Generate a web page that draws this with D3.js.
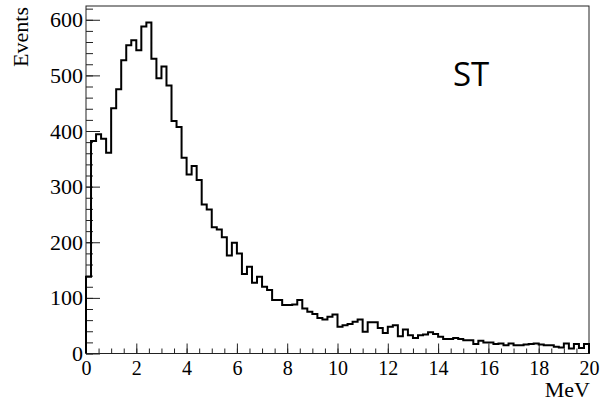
<!DOCTYPE html>
<html>
<head>
<meta charset="utf-8">
<script src="https://cdn.jsdelivr.net/npm/d3@7"></script>
<style>
  body { margin: 0; background: #fff; }
  svg { display: block; }
</style>
</head>
<body>
<div class="chart"></div>
<script>
// histogram: 100 bins of 0.2 MeV from 0 to 20 MeV
var binStart = 0;
var binWidth = 0.2;
var counts = [
  138, 382, 394, 386, 361, 441, 475, 527, 554, 563,
  545, 588, 595, 530, 495, 516, 482, 418, 407, 352,
  322, 337, 312, 268, 259, 227, 223, 209, 176, 199,
  180, 143, 156, 127, 138, 120, 114, 96, 96, 87,
  87, 88, 96, 81, 75, 71, 64, 61, 66, 70,
  48, 51, 53, 57, 61, 39, 56, 56, 46, 37,
  48, 51, 31, 43, 33, 28, 33, 34, 38, 35,
  30, 26, 26, 28, 26, 24, 24, 17, 23, 20,
  20, 17, 18, 15, 18, 15, 15, 16, 17, 18,
  16, 15, 15, 12, 11, 18, 9, 17, 10, 17
];
var xTicks = [0, 2, 4, 6, 8, 10, 12, 14, 16, 18, 20];
var yTicks = [0, 100, 200, 300, 400, 500, 600];
var xTitle = "MeV";
var yTitle = "Events";
var tag = "ST";

var W = 603, H = 406;
var padL = 86, padR = 589, padT = 6, padB = 353.5;

var svg = d3.select(".chart").append("svg")
    .attr("width", W).attr("height", H);

var x = d3.scaleLinear().domain([0, 20]).range([padL, padR]);
var y = d3.scaleLinear().domain([0, d3.max(counts) * 1.05]).range([padB, padT]);

// frame
svg.append("rect")
    .attr("x", padL).attr("y", padT)
    .attr("width", padR - padL).attr("height", padB - padT)
    .attr("fill", "none").attr("stroke", "#222").attr("stroke-width", 1);

// minor ticks
svg.append("g").attr("transform", "translate(0," + padB + ")")
    .call(d3.axisBottom(x).tickValues(x.ticks(40)).tickSizeInner(-5).tickSizeOuter(0).tickFormat(""))
    .call(function (g) { g.select(".domain").remove(); });
svg.append("g").attr("transform", "translate(" + padL + ",0)")
    .call(d3.axisLeft(y).tickValues(y.ticks(30)).tickSizeInner(-7).tickSizeOuter(0).tickFormat(""))
    .call(function (g) { g.select(".domain").remove(); });

// major ticks + labels
var gx = svg.append("g").attr("transform", "translate(0," + padB + ")")
    .call(d3.axisBottom(x).tickValues(xTicks).tickSizeInner(-10).tickSizeOuter(0).tickPadding(7));
gx.select(".domain").remove();
gx.selectAll("text").attr("font-family", "Liberation Serif").attr("font-size", 20).attr("fill", "#000");

var gy = svg.append("g").attr("transform", "translate(" + padL + ",0)")
    .call(d3.axisLeft(y).tickValues(yTicks).tickSizeInner(-14).tickSizeOuter(0).tickPadding(3));
gy.select(".domain").remove();
gy.selectAll("text").attr("font-family", "Liberation Serif").attr("font-size", 22).attr("fill", "#000");

svg.selectAll(".tick line").attr("stroke", "#222").attr("stroke-width", 1);

// histogram outline
var pts = [[binStart, 0]];
counts.forEach(function (c, i) { pts.push([binStart + i * binWidth, c]); });
pts.push([binStart + counts.length * binWidth, counts[counts.length - 1]]);
pts.push([binStart + counts.length * binWidth, 0]);

var line = d3.line()
    .x(function (d) { return x(d[0]); })
    .y(function (d) { return y(d[1]); })
    .curve(d3.curveStepAfter);

svg.append("path")
    .attr("d", line(pts))
    .attr("fill", "none")
    .attr("stroke", "#000")
    .attr("stroke-width", 2);

// titles
svg.append("text")
    .attr("x", 590).attr("y", 397)
    .attr("text-anchor", "end")
    .attr("font-family", "Liberation Serif").attr("font-size", 22)
    .text(xTitle);

svg.append("text")
    .attr("transform", "translate(28,7) rotate(-90)")
    .attr("text-anchor", "end")
    .attr("font-family", "Liberation Serif").attr("font-size", 22)
    .text(yTitle);

svg.append("text")
    .attr("x", 453).attr("y", 86)
    .attr("font-family", "Open Sans").attr("font-size", 33)
    .text(tag);
</script>
</body>
</html>
